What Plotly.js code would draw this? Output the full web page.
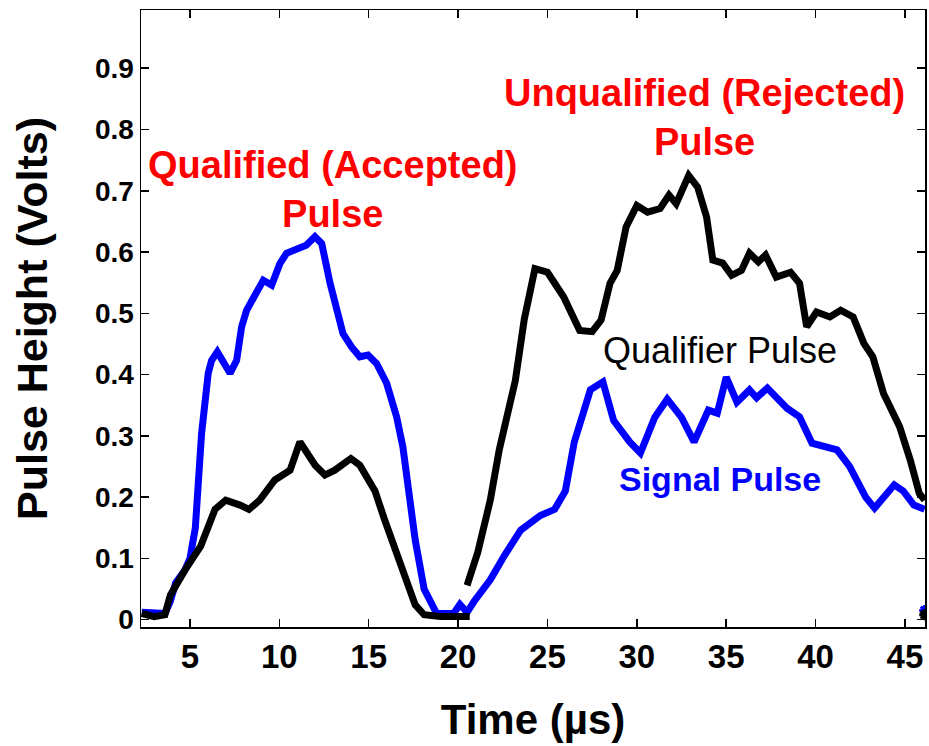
<!DOCTYPE html>
<html>
<head>
<meta charset="utf-8">
<script src="https://cdn.plot.ly/plotly-3.0.1.min.js"></script>
<style>html,body{margin:0;padding:0;background:#fff;}#chart{width:929px;height:746px;}</style>
</head>
<body>
<div id="chart"></div>
<script>
// Signal pulse (blue), microseconds / volts
const signalTime = [2.3, 3.0, 3.6, 3.9, 4.2, 4.7, 5.0, 5.3, 5.65, 6.02, 6.21, 6.53, 6.86, 7.24, 7.61, 7.89, 8.17, 8.73, 9.1, 9.57, 10.03, 10.4, 10.97, 11.5, 11.99, 12.37, 12.83, 13.2, 13.56, 14.04, 14.5, 14.96, 15.44, 16.0, 16.56, 16.91, 17.2, 17.6, 18.1, 18.8, 19.4, 19.8, 20.1, 20.5, 20.9, 21.8, 22.6, 23.5, 24.6, 25.4, 26.0, 26.5, 27.4, 28.1, 28.7, 29.6, 30.2, 31.0, 31.7, 32.5, 33.2, 34.0, 34.5, 35.0, 35.6, 36.3, 36.7, 37.3, 38.4, 39.1, 39.8, 41.2, 41.9, 42.8, 43.3, 43.8, 44.4, 44.9, 45.5, 46.1];
const signalVolts = [0.012, 0.012, 0.01, 0.03, 0.06, 0.08, 0.1, 0.15, 0.304, 0.402, 0.423, 0.437, 0.423, 0.402, 0.423, 0.478, 0.505, 0.538, 0.554, 0.546, 0.581, 0.598, 0.606, 0.611, 0.625, 0.614, 0.55, 0.505, 0.467, 0.445, 0.429, 0.432, 0.418, 0.386, 0.331, 0.282, 0.21, 0.13, 0.05, 0.01, 0.01, 0.012, 0.025, 0.012, 0.03, 0.065, 0.105, 0.146, 0.17, 0.18, 0.21, 0.29, 0.375, 0.388, 0.325, 0.29, 0.272, 0.33, 0.36, 0.33, 0.29, 0.342, 0.337, 0.396, 0.355, 0.375, 0.362, 0.378, 0.345, 0.331, 0.288, 0.277, 0.25, 0.2, 0.182, 0.2, 0.22, 0.21, 0.187, 0.18];

// Qualifier pulse (black), first pulse
const qualTimeA = [2.3, 3.0, 3.6, 3.9, 4.7, 5.6, 6.4, 7.0, 7.8, 8.3, 8.9, 9.75, 10.6, 11.15, 12.0, 12.55, 13.1, 14.0, 14.5, 15.35, 15.9, 16.5, 17.0, 17.6, 18.1, 19.0, 20.0, 20.65];
const qualVoltsA = [0.01, 0.005, 0.008, 0.04, 0.08, 0.12, 0.18, 0.195, 0.187, 0.18, 0.195, 0.228, 0.244, 0.29, 0.252, 0.236, 0.244, 0.263, 0.252, 0.21, 0.162, 0.113, 0.065, 0.024, 0.008, 0.005, 0.005, 0.005];

// Qualifier pulse (black), second pulse
const qualTimeB = [20.5, 21.1, 21.8, 22.3, 23.2, 23.7, 24.3, 25.0, 25.9, 26.8, 27.5, 28.0, 28.5, 28.9, 29.4, 30.0, 30.6, 31.3, 31.8, 32.2, 32.9, 33.4, 33.9, 34.25, 34.8, 35.3, 35.85, 36.3, 36.8, 37.2, 37.8, 38.6, 39.1, 39.5, 40.05, 40.8, 41.4, 42.1, 42.7, 43.2, 43.8, 44.7, 45.3, 45.8, 46.1];
const qualVoltsB = [0.056, 0.11, 0.195, 0.277, 0.39, 0.49, 0.573, 0.567, 0.527, 0.472, 0.47, 0.489, 0.549, 0.57, 0.641, 0.676, 0.665, 0.671, 0.693, 0.679, 0.725, 0.706, 0.657, 0.587, 0.582, 0.562, 0.57, 0.598, 0.584, 0.595, 0.559, 0.567, 0.549, 0.478, 0.502, 0.494, 0.505, 0.494, 0.451, 0.429, 0.369, 0.315, 0.26, 0.206, 0.195];

// Start of next sweep at right edge
const nextTime = [46.1];
const nextSignal = [0.015];
const nextQual = [0.008];

const xTicks = [5, 10, 15, 20, 25, 30, 35, 40, 45];
const yTicks = [0, 0.1, 0.2, 0.3, 0.4, 0.5, 0.6, 0.7, 0.8, 0.9];
const yTickText = ['0', '0.1', '0.2', '0.3', '0.4', '0.5', '0.6', '0.7', '0.8', '0.9'];

const BLUE = '#0000ff';
const FONT = 'Liberation Sans, Arial, sans-serif';

const traces = [
  {x: signalTime, y: signalVolts, mode: 'lines', line: {color: BLUE, width: 7}, hoverinfo: 'none'},
  {x: qualTimeA, y: qualVoltsA, mode: 'lines', line: {color: '#000', width: 7}, hoverinfo: 'none'},
  {x: qualTimeB, y: qualVoltsB, mode: 'lines', line: {color: '#000', width: 7}, hoverinfo: 'none'},
  {x: nextTime, y: nextSignal, mode: 'markers', marker: {color: BLUE, size: 9, symbol: 'asterisk-open', line: {color: BLUE, width: 3}}, hoverinfo: 'none'},
  {x: nextTime, y: nextQual, mode: 'markers', marker: {color: '#000', size: 9, symbol: 'asterisk-open', line: {color: '#000', width: 3}}, hoverinfo: 'none'}
];

const axisCommon = {
  showgrid: false, zeroline: false, showline: true, linecolor: '#000', linewidth: 1.5,
  mirror: 'ticks', ticks: 'inside', ticklen: 8, tickwidth: 1.5, tickcolor: '#000'
};

const layout = {
  width: 929, height: 746,
  margin: {l: 141, r: 4, t: 10, b: 119},
  paper_bgcolor: '#fff', plot_bgcolor: '#fff',
  showlegend: false,
  xaxis: Object.assign({}, axisCommon, {
    range: [2.26, 46.12], tickvals: xTicks,
    tickfont: {family: FONT, size: 33, color: '#000', weight: 'bold'},
    title: {text: 'Time (µs)', font: {family: FONT, size: 42, color: '#000', weight: 'bold'}, standoff: 30}
  }),
  yaxis: Object.assign({}, axisCommon, {
    range: [-0.012, 0.995], tickvals: yTicks, ticktext: yTickText,
    tickfont: {family: FONT, size: 28, color: '#000', weight: 'bold'},
    title: {text: 'Pulse Height (Volts)', font: {family: FONT, size: 43, color: '#000', weight: 'bold'}, standoff: 34}
  }),
  annotations: [
    {x: 13.0, y: 0.702, xref: 'x', yref: 'y', showarrow: false, xanchor: 'center', yanchor: 'middle',
     text: 'Qualified (Accepted)<br>Pulse', font: {family: FONT, size: 38, color: '#ff0000', weight: 'bold'}},
    {x: 33.8, y: 0.819, xref: 'x', yref: 'y', showarrow: false, xanchor: 'center', yanchor: 'middle',
     text: 'Unqualified (Rejected)<br>Pulse', font: {family: FONT, size: 38, color: '#ff0000', weight: 'bold'}},
    {x: 34.65, y: 0.44, xref: 'x', yref: 'y', showarrow: false, xanchor: 'center', yanchor: 'middle',
     text: 'Qualifier Pulse', font: {family: FONT, size: 36, color: '#000'}},
    {x: 34.65, y: 0.229, xref: 'x', yref: 'y', showarrow: false, xanchor: 'center', yanchor: 'middle',
     text: 'Signal Pulse', font: {family: FONT, size: 34, color: BLUE, weight: 'bold'}}
  ]
};

Plotly.newPlot('chart', traces, layout, {staticPlot: true, displayModeBar: false});
</script>
</body>
</html>
